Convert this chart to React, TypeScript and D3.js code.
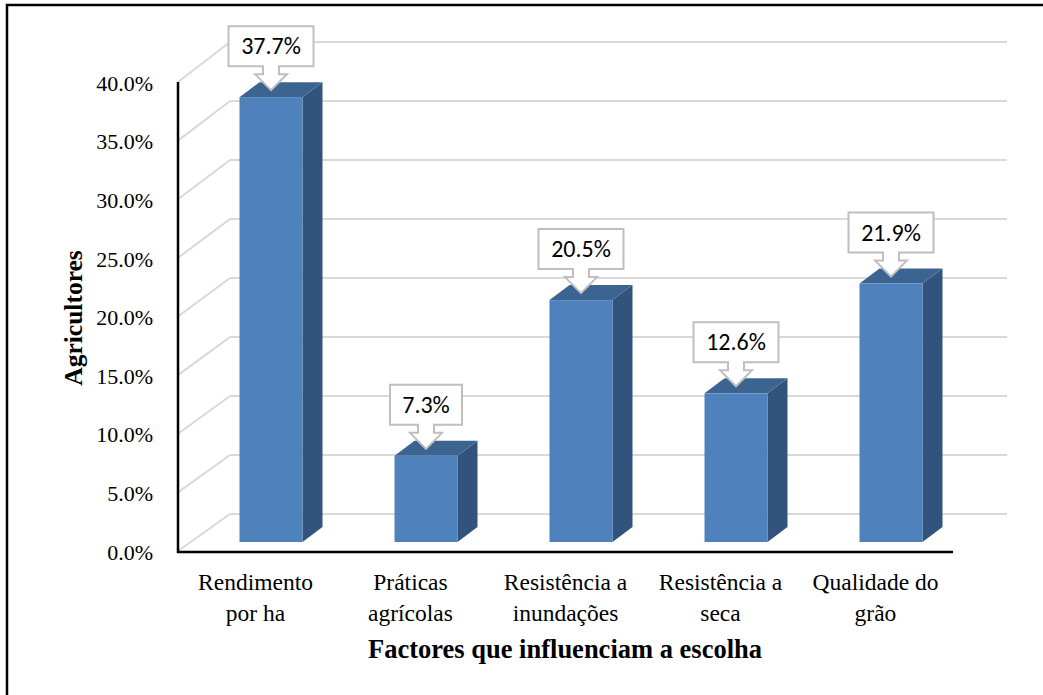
import * as d3 from "d3";

const categories = [
  ["Rendimento", "por ha"],
  ["Práticas", "agrícolas"],
  ["Resistência a", "inundações"],
  ["Resistência a", "seca"],
  ["Qualidade do", "grão"],
];
const values = [37.7, 7.3, 20.5, 12.6, 21.9];
const ticks = [0, 5, 10, 15, 20, 25, 30, 35, 40];
const yTitle = "Agricultores";
const xTitle = "Factores que influenciam a escolha";

const W = 1043;
const H = 695;

// plot geometry (pseudo 3D: front axis, back wall, bars in the middle)
const axisLeft = 178;
const axisRight = 953;
const wallLeft = 230;
const wallRight = 1007;
const barW = 63;
const barShift = 15.5;
const depthX = 20;
const depthY = -15;

const serif = "'Liberation Serif', 'Times New Roman', serif";
const sans = "Carlito, Lato, 'Liberation Sans', sans-serif";

function Callout({ cx, top, label }: { cx: number; top: number; label: string }) {
  const boxW = label.length * 13 + 20;
  const boxTop = top - 71;
  const boxBottom = top - 31;
  const headTop = top - 23;
  const tip = top - 7;
  const sw = 8;
  const hw = 16;
  const d = [
    [cx - boxW / 2, boxTop],
    [cx + boxW / 2, boxTop],
    [cx + boxW / 2, boxBottom],
    [cx + sw, boxBottom],
    [cx + sw, headTop],
    [cx + hw, headTop],
    [cx, tip],
    [cx - hw, headTop],
    [cx - sw, headTop],
    [cx - sw, boxBottom],
    [cx - boxW / 2, boxBottom],
  ];
  return (
    <g>
      <path d={"M" + d.map((p) => p.join(",")).join("L") + "Z"} fill="#fff" stroke="#bfbfbf" strokeWidth={2} />
      <text x={cx} y={boxTop + 28} textAnchor="middle" fontFamily={sans} fontSize={24} fill="#000">
        {label}
      </text>
    </g>
  );
}

export default function App() {
  const x = d3.scaleBand<number>().domain(d3.range(values.length)).range([axisLeft, axisRight]).padding(0);
  const yFront = d3.scaleLinear().domain([0, 40]).range([551, 82]);
  const yBack = d3.scaleLinear().domain([0, 40]).range([514, 42]);
  const yBar = d3.scaleLinear().domain([0, 40]).range([542, 70]);
  const fmt = d3.format(".1f");

  return (
    <svg width={W} height={H} style={{ position: "absolute", left: 0, top: 0, background: "#fff" }}>
      <rect x={7} y={5} width={W} height={H} fill="#fff" stroke="#000" strokeWidth={2.5} />

      {/* gridlines: side wall diagonals + back wall */}
      <g stroke="#d9d9d9" strokeWidth={2} fill="none">
        {ticks.map((t) => (
          <g key={t}>
            <line x1={axisLeft} y1={yFront(t)} x2={wallLeft} y2={yBack(t)} />
            <line x1={wallLeft} y1={yBack(t)} x2={wallRight} y2={yBack(t)} />
          </g>
        ))}
      </g>

      {/* bars */}
      {values.map((v, i) => {
        const x0 = (x(i) as number) + (x.bandwidth() - barW) / 2 + barShift;
        const x1 = x0 + barW;
        const yt = yBar(v);
        const yb = yBar(0);
        return (
          <g key={i}>
            <path
              d={`M${x1},${yt}L${x1 + depthX},${yt + depthY}L${x1 + depthX},${yb + depthY}L${x1},${yb}Z`}
              fill="#32537c"
            />
            <path
              d={`M${x0},${yt}L${x0 + depthX},${yt + depthY}L${x1 + depthX},${yt + depthY}L${x1},${yt}Z`}
              fill="#3c6491"
            />
            <rect x={x0} y={yt} width={barW} height={yb - yt} fill="#4f81bd" />
          </g>
        );
      })}

      {/* axes */}
      <g stroke="#000" strokeWidth={2.5}>
        <line x1={axisLeft} y1={yFront(40)} x2={axisLeft} y2={553} />
        <line x1={axisLeft - 1} y1={552} x2={axisRight} y2={552} />
      </g>

      {/* y tick labels */}
      {ticks.map((t) => (
        <text
          key={t}
          x={153}
          y={yFront(t) + 1}
          dy="0.35em"
          textAnchor="end"
          fontFamily={serif}
          fontSize={22}
          fill="#000"
        >
          {fmt(t)}%
        </text>
      ))}

      {/* category labels */}
      {categories.map((lines, i) => {
        const cx = (x(i) as number) + x.bandwidth() / 2;
        return (
          <text key={i} x={cx} textAnchor="middle" fontFamily={serif} fontSize={23.5} fill="#000">
            <tspan x={cx} y={590}>
              {lines[0]}
            </tspan>
            <tspan x={cx} y={621}>
              {lines[1]}
            </tspan>
          </text>
        );
      })}

      {/* callouts */}
      {values.map((v, i) => {
        const cx = (x(i) as number) + x.bandwidth() / 2 + barShift;
        return <Callout key={i} cx={cx} top={yBar(v)} label={`${fmt(v)}%`} />;
      })}

      {/* titles */}
      <text
        x={565}
        y={658}
        textAnchor="middle"
        fontFamily={serif}
        fontWeight="bold"
        fontSize={26.5}
        fill="#000"
      >
        {xTitle}
      </text>
      <text
        transform="translate(82,318) rotate(-90)"
        textAnchor="middle"
        fontFamily={serif}
        fontWeight="bold"
        fontSize={25.5}
        fill="#000"
      >
        {yTitle}
      </text>
    </svg>
  );
}
